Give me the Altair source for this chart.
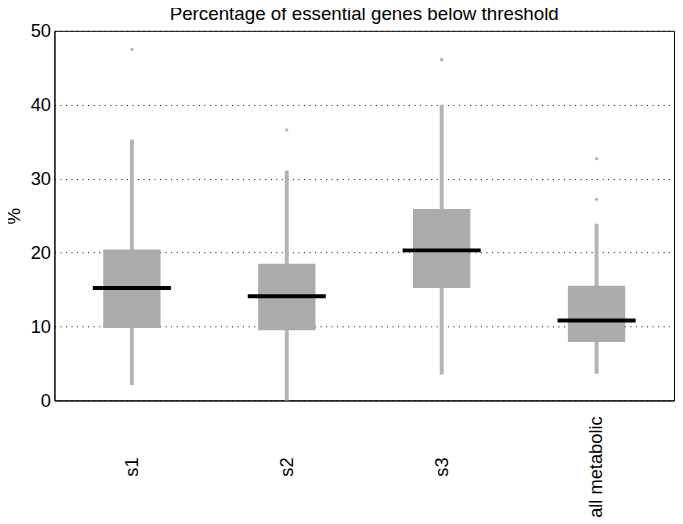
import altair as alt
import pandas as pd

categories = ["s1", "s2", "s3", "all metabolic"]
whisker_low = [2.1, 0.0, 3.5, 3.6]
q1 = [9.8, 9.5, 15.2, 7.9]
median = [15.2, 14.1, 20.3, 10.8]
q3 = [20.4, 18.5, 25.9, 15.5]
whisker_high = [35.3, 31.1, 40.0, 23.9]

outlier_cats = ["s1", "s2", "s3", "s3", "all metabolic", "all metabolic"]
outlier_vals = [47.5, 36.6, 46.1, 46.1, 32.7, 27.2]

box_df = pd.DataFrame({
    "cat": categories, "lo": whisker_low, "q1": q1,
    "med": median, "q3": q3, "hi": whisker_high,
})
out_df = pd.DataFrame({"cat": outlier_cats, "v": outlier_vals})

FONT = "Liberation Sans"

x = alt.X("cat:N", sort=categories,
          scale=alt.Scale(paddingInner=0, paddingOuter=0),
          axis=alt.Axis(title=None, labelAngle=270, labelAlign="center",
                        labelBaseline="middle", labelPadding=67,
                        ticks=False, grid=False, domain=True))
yscale = alt.Scale(domain=[0, 50], nice=False)
yaxis = alt.Axis(title="%", values=[0, 10, 20, 30, 40, 50], ticks=False,
                 grid=True, gridColor="black", gridDash=[1, 4.6],
                 gridWidth=1, gridOpacity=1, labelPadding=4,
                 titleAngle=270, titleX=-41, titleY=187,
                 titleAlign="center", titleBaseline="middle")

base = alt.Chart(box_df)

whiskers = base.mark_rule(color="#b4b4b4", strokeWidth=4, opacity=1).encode(
    x=x,
    y=alt.Y("lo:Q", scale=yscale, axis=yaxis),
    y2="hi:Q",
)
boxes = base.mark_bar(color="#ababab", size=58, opacity=1).encode(
    x=x,
    y=alt.Y("q1:Q", scale=yscale),
    y2="q3:Q",
)
medians = base.mark_tick(color="black", size=79, thickness=4, opacity=1,
                         orient="horizontal").encode(
    x=x,
    y=alt.Y("med:Q", scale=yscale),
)
outliers = alt.Chart(out_df).mark_circle(color="#b4b4b4", size=11,
                                         opacity=1).encode(
    x=x,
    y=alt.Y("v:Q", scale=yscale),
)

chart = alt.layer(whiskers, boxes, medians, outliers).properties(
    width=627, height=374,
    title=alt.TitleParams("Percentage of essential genes below threshold",
                          fontSize=19, font=FONT, fontWeight="normal",
                          color="black", anchor="middle", frame="group",
                          baseline="alphabetic", offset=-17),
    autosize=alt.AutoSizeParams(type="none"),
    padding={"left": 47, "top": 20, "right": 1, "bottom": 124},
).configure_view(
    stroke="black", strokeWidth=1
).configure_axis(
    labelFont=FONT, titleFont=FONT, labelFontSize=18.5, titleFontSize=19,
    labelColor="black", titleColor="black", domainColor="black",
    domainWidth=1, titleFontWeight="normal",
)

chart.save("out.html", embed_options={"renderer": "svg", "actions": False})
